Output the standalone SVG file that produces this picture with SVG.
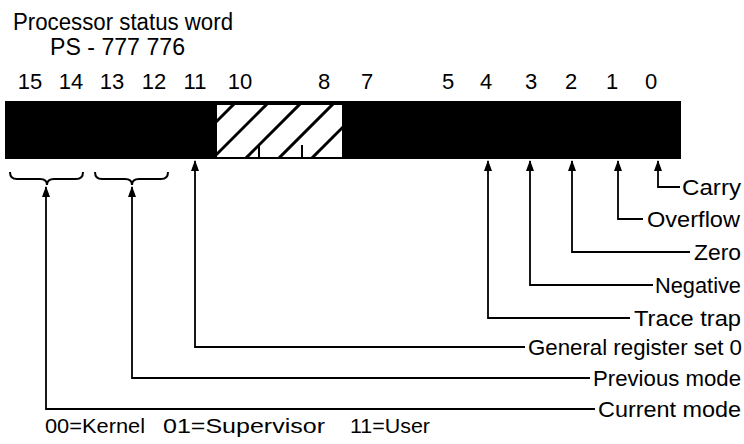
<svg xmlns="http://www.w3.org/2000/svg" width="744" height="444" viewBox="0 0 744 444">
  <defs>
    <style>
      text { font-family: "Liberation Sans", Arial, sans-serif; fill: #000; }
      .title { font-size: 23px; }
      .bit { font-size: 22px; text-anchor: middle; }
      .lbl { font-size: 22px; text-anchor: end; }
      .note { font-size: 21px; }
      .wire { fill: none; stroke: #000; stroke-width: 1.8; marker-end: url(#up); }
      .brace { fill: none; stroke: #000; stroke-width: 2; }
      .hatch { stroke: #000; stroke-width: 3; }
    </style>
    <marker id="up" viewBox="0 0 11 8" refX="10" refY="4" markerWidth="11" markerHeight="8" markerUnits="userSpaceOnUse" orient="auto">
      <path d="M0,0 L11,4 L0,8 Z" fill="#000"/>
    </marker>
    <clipPath id="reservedClip">
      <rect x="217" y="105" width="125" height="52"/>
    </clipPath>
  </defs>

  <!-- heading -->
  <g id="heading">
    <text class="title" x="13" y="30" textLength="220" lengthAdjust="spacingAndGlyphs">Processor status word</text>
    <text class="title" x="50" y="55" textLength="135" lengthAdjust="spacingAndGlyphs">PS - 777 776</text>
  </g>

  <!-- bit numbers -->
  <g id="bit-numbers">
    <text class="bit" x="30" y="89">15</text>
    <text class="bit" x="71" y="89">14</text>
    <text class="bit" x="112" y="89">13</text>
    <text class="bit" x="154" y="89">12</text>
    <text class="bit" x="195" y="89">11</text>
    <text class="bit" x="240" y="89">10</text>
    <text class="bit" x="324" y="89">8</text>
    <text class="bit" x="367" y="89">7</text>
    <text class="bit" x="448" y="89">5</text>
    <text class="bit" x="486" y="89">4</text>
    <text class="bit" x="531" y="89">3</text>
    <text class="bit" x="571" y="89">2</text>
    <text class="bit" x="612" y="89">1</text>
    <text class="bit" x="651" y="89">0</text>
  </g>

  <!-- register bar with the reserved field (bits 10-8) hatched -->
  <g id="register">
    <rect x="5" y="101" width="676" height="58" fill="#000"/>
    <rect x="217" y="105" width="125" height="52" fill="#fff"/>
    <g clip-path="url(#reservedClip)" class="hatch">
      <line x1="171" y1="167" x2="243" y2="95"/>
      <line x1="204" y1="167" x2="276" y2="95"/>
      <line x1="237" y1="167" x2="309" y2="95"/>
      <line x1="270" y1="167" x2="342" y2="95"/>
      <line x1="303" y1="167" x2="375" y2="95"/>
    </g>
    <line x1="259" y1="145" x2="259" y2="157" stroke="#000" stroke-width="2"/>
    <line x1="302" y1="145" x2="302" y2="157" stroke="#000" stroke-width="2"/>
  </g>

  <!-- braces over the two-bit mode fields -->
  <g id="mode-braces">
    <path class="brace" d="M10,172 q0,7 7,7 L40,179 q7,0 7,6 q0,-6 7,-6 L76,179 q7,0 7,-7"/>
    <path class="brace" d="M95,172 q0,7 7,7 L125,179 q7,0 7,6 q0,-6 7,-6 L161,179 q7,0 7,-7"/>
  </g>

  <!-- connectors from each label up to its bit -->
  <g id="connectors">
    <polyline class="wire" points="680,187 658,187 658,161"/>
    <polyline class="wire" points="643,219 618,219 618,161"/>
    <polyline class="wire" points="690,252 572,252 572,161"/>
    <polyline class="wire" points="653,285 530,285 530,161"/>
    <polyline class="wire" points="630,318 488,318 488,161"/>
    <polyline class="wire" points="525,347 195,347 195,161"/>
    <polyline class="wire" points="590,378 132,378 132,187"/>
    <polyline class="wire" points="595,409 46,409 46,187"/>
  </g>

  <!-- field labels -->
  <g id="label-carry"><text class="lbl" x="741" y="195" textLength="59" lengthAdjust="spacingAndGlyphs">Carry</text></g>
  <g id="label-overflow"><text class="lbl" x="740" y="227" textLength="93" lengthAdjust="spacingAndGlyphs">Overflow</text></g>
  <g id="label-zero"><text class="lbl" x="741" y="260" textLength="47" lengthAdjust="spacingAndGlyphs">Zero</text></g>
  <g id="label-negative"><text class="lbl" x="741" y="293" textLength="86" lengthAdjust="spacingAndGlyphs">Negative</text></g>
  <g id="label-trace-trap"><text class="lbl" x="741" y="326" textLength="107" lengthAdjust="spacingAndGlyphs">Trace trap</text></g>
  <g id="label-general-register"><text class="lbl" x="742" y="355" textLength="214" lengthAdjust="spacingAndGlyphs">General register set 0</text></g>
  <g id="label-previous-mode"><text class="lbl" x="741" y="386" textLength="148" lengthAdjust="spacingAndGlyphs">Previous mode</text></g>
  <g id="label-current-mode"><text class="lbl" x="741" y="417" textLength="143" lengthAdjust="spacingAndGlyphs">Current mode</text></g>

  <!-- mode encoding key -->
  <g id="mode-key">
    <text class="note" x="45" y="433" textLength="100" lengthAdjust="spacingAndGlyphs">00=Kernel</text>
    <text class="note" x="163" y="433" textLength="162" lengthAdjust="spacingAndGlyphs">01=Supervisor</text>
    <text class="note" x="350" y="433" textLength="80" lengthAdjust="spacingAndGlyphs">11=User</text>
  </g>
</svg>
